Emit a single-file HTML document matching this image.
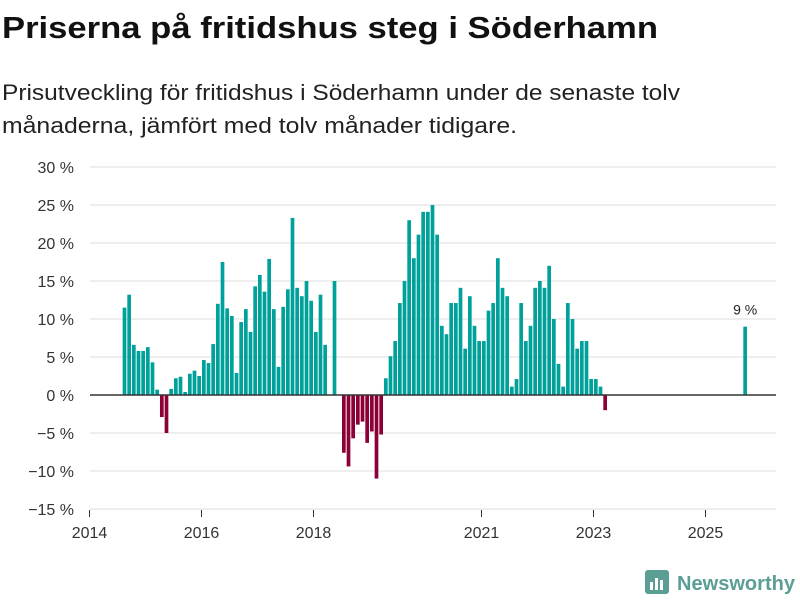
<!DOCTYPE html>
<html><head><meta charset="utf-8"><style>
body{margin:0;background:#fff;}
svg{display:block;font-family:"Liberation Sans",sans-serif;}
</style></head><body>
<svg id="chart" width="800" height="600" viewBox="0 0 800 600">
<text x="2" y="38" font-size="31" font-weight="bold" fill="#111" textLength="656" lengthAdjust="spacingAndGlyphs">Priserna på fritidshus steg i Söderhamn</text>
<text x="2" y="100" font-size="22" fill="#222" textLength="678" lengthAdjust="spacingAndGlyphs">Prisutveckling för fritidshus i Söderhamn under de senaste tolv</text>
<text x="2" y="133" font-size="22" fill="#222" textLength="515" lengthAdjust="spacingAndGlyphs">månaderna, jämfört med tolv månader tidigare.</text>
<g id="grid"></g><g id="bars"></g><g id="axes"></g>
<g>
<rect x="645" y="570" width="24" height="24" rx="3" fill="#5a9e94"/>
<rect x="650" y="582" width="3" height="8" fill="#fff"/><rect x="655" y="578" width="3" height="12" fill="#fff"/><rect x="660" y="580" width="3" height="10" fill="#fff"/>
<text x="677" y="590" font-size="20" font-weight="bold" fill="#5a9e94" textLength="118" lengthAdjust="spacingAndGlyphs">Newsworthy</text>
</g>
</svg>
<script>
const yTicks=[30,25,20,15,10,5,0,-5,-10,-15];
const yearLabels=[2014,2016,2018,2021,2023,2025];
const startYear=2014,startMonth=7; // first bar = Aug 2014
const values=[11.5,13.2,6.6,5.8,5.8,6.3,4.3,0.7,-2.9,-5.0,0.8,2.2,2.4,0.4,2.8,3.2,2.5,4.6,4.2,6.7,12.0,17.5,11.4,10.4,2.9,9.6,11.3,8.3,14.3,15.8,13.6,17.9,11.3,3.7,11.6,13.9,23.3,14.1,13.0,15.0,12.4,8.3,13.2,6.6,
null,15.0,null,
-7.6,-9.4,-5.7,-3.9,-3.5,-6.3,-4.8,-11.0,-5.2,2.2,5.1,7.1,12.1,15.0,23.0,18.0,21.1,24.1,24.1,25.0,21.1,9.1,8.0,12.1,12.1,14.1,6.1,13.0,9.1,7.1,7.1,11.1,12.1,18.0,14.1,13.0,1.1,2.1,12.1,7.1,9.1,14.1,15.0,14.1,17.0,10.0,4.1,1.1,12.1,10.0,6.1,7.1,7.1,2.1,2.1,1.1,-2.0,
null,null,null,null,null,null,null,null,null,null,null,null,null,null,null,null,null,null,null,null,null,null,null,null,null,null,null,null,null,
9.0];
const NS="http://www.w3.org/2000/svg";
const y=v=>395-v*7.6;
const xm=m=>89.5+m*(56/12); // months since Jan 2014
function mk(tag,attrs,parent){const e=document.createElementNS(NS,tag);for(const k in attrs)e.setAttribute(k,attrs[k]);document.getElementById(parent).appendChild(e);return e;}
yTicks.forEach(t=>{
  if(t!==0){const l=mk('line',{x1:90,x2:776,y1:y(t),y2:y(t),stroke:'#dddddd','stroke-width':1},'grid');
  
  }
  const tx=mk('text',{x:74,y:y(t)+6,'font-size':16,'text-anchor':'end',fill:'#333'},'grid');
  tx.textContent=(t<0?'\u2212'+(-t):t)+' %';
  
  
});
values.forEach((v,i)=>{
  if(v===null)return;
  const m=startMonth+i;
  const cx=xm(m+0.5);
  const r=mk('rect',{x:cx-1.85,width:3.7,y:Math.min(y(v),395),height:Math.abs(y(v)-395),fill:v>=0?'#00a19a':'#8b0036'},'bars');
  
  
  if(i===values.length-1){const lb=mk('text',{x:cx,y:y(v)-12,'font-size':14,'text-anchor':'middle',fill:'#222'},'bars');
  lb.textContent=Math.round(v)+' %';
  
  }
});
const z=mk('line',{x1:90,x2:776,y1:395,y2:395,stroke:'#333','stroke-width':1.5},'axes');


yearLabels.forEach(yr=>{
  const x=xm((yr-startYear)*12);
  const t=mk('line',{x1:x,x2:x,y1:510,y2:517,stroke:'#333'},'axes');
  
  
  const tx=mk('text',{x:x,y:538,'font-size':16,'text-anchor':'middle',fill:'#333'},'axes');
  tx.textContent=yr;
  
  
});
</script>
</body></html>
